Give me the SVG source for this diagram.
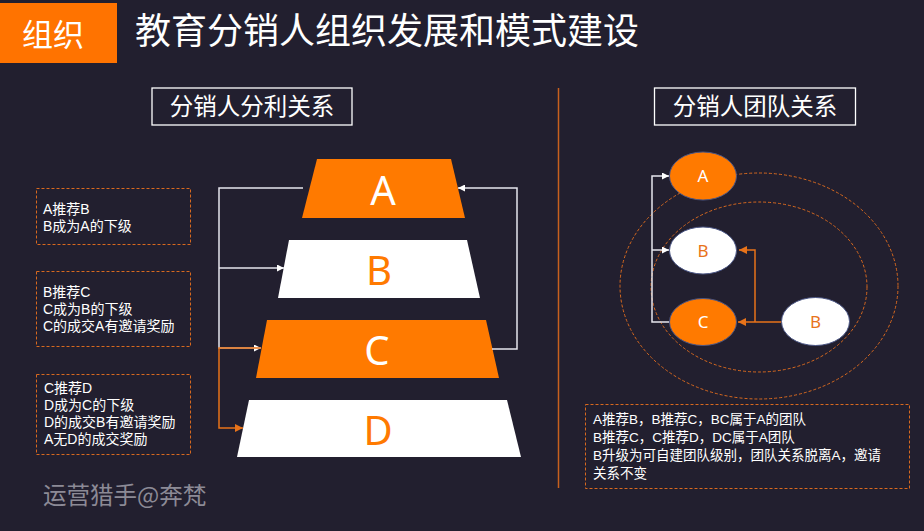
<svg xmlns="http://www.w3.org/2000/svg" width="924" height="531" viewBox="0 0 924 531">
<defs>
<style>
.cjk{font-family:"Noto Sans CJK SC","Noto Sans",sans-serif;}
.lat{font-family:"Noto Sans","Noto Sans CJK SC",sans-serif;}
.nf{font-family:"Liberation Sans","Noto Sans CJK SC",sans-serif;}
.box{fill:none;stroke:#d8691f;stroke-width:1;stroke-dasharray:3 2;}
.note{font-size:13.5px;fill:#ffffff;}
.lnote{font-size:14px;fill:#ffffff;}
.wl{fill:none;stroke:#e6e6ee;stroke-width:1.5;}
.ol{fill:none;stroke:#e8731a;stroke-width:1.5;}
.hdr{fill:none;stroke:#ffffff;stroke-width:1.3;}
.big{font-size:40px;text-anchor:middle;}
.sm{font-size:17px;text-anchor:middle;}
.orange{fill:#ff7a00;}
.ell{stroke:#4a5584;stroke-width:1;}
</style>
<linearGradient id="hl" x1="0" x2="1" y1="0" y2="0">
<stop offset="0" stop-color="#d8681e"/>
<stop offset="1" stop-color="#b4552a"/>
</linearGradient>
<marker id="aw" viewBox="0 0 10 10" refX="10" refY="5" markerWidth="7" markerHeight="7" markerUnits="userSpaceOnUse" orient="auto"><path d="M0,0 L10,5 L0,10 z" fill="#ffffff"/></marker>
<marker id="ao" viewBox="0 0 10 10" refX="10" refY="5" markerWidth="8" markerHeight="8" markerUnits="userSpaceOnUse" orient="auto"><path d="M0,0 L10,5 L0,10 z" fill="#e8731a"/></marker>
</defs>
<rect x="0" y="0" width="924" height="531" fill="#221f2f"/>

<g id="header">
<rect x="0" y="3" width="117" height="60" fill="#ff7300"/>
<text x="22" y="46" class="cjk" font-size="31" fill="#ffffff">组织</text>
<text x="135" y="44" class="cjk" font-size="36" fill="#ffffff">教育分销人组织发展和模式建设</text>
<line x1="117" y1="62.5" x2="706" y2="62.5" stroke="url(#hl)" stroke-width="2"/>
</g>

<line id="divider" x1="558.5" y1="88" x2="558.5" y2="488" stroke="#c8601e" stroke-width="1.5"/>

<g id="title-left">
<rect x="152" y="88" width="200" height="37" class="hdr"/>
<text x="252" y="115" class="cjk" font-size="23.5" fill="#ffffff" text-anchor="middle">分销人分利关系</text>
</g>
<g id="title-right">
<rect x="654.5" y="88" width="201" height="37" class="hdr"/>
<text x="755" y="115" class="cjk" font-size="23.5" fill="#ffffff" text-anchor="middle">分销人团队关系</text>
</g>

<g id="note1">
<rect x="36.5" y="188.5" width="154" height="56" class="box"/>
<text class="nf lnote" x="43" y="214">A推荐B</text>
<text class="nf lnote" x="43" y="231">B成为A的下级</text>
</g>
<g id="note2">
<rect x="36.5" y="271.5" width="154" height="75" class="box"/>
<text class="nf lnote" x="43" y="297">B推荐C</text>
<text class="nf lnote" x="43" y="314">C成为B的下级</text>
<text class="nf lnote" x="43" y="331">C的成交A有邀请奖励</text>
</g>
<g id="note3">
<rect x="36.5" y="374.5" width="154" height="80" class="box"/>
<text class="nf lnote" x="44" y="393">C推荐D</text>
<text class="nf lnote" x="44" y="410">D成为C的下级</text>
<text class="nf lnote" x="44" y="427">D的成交B有邀请奖励</text>
<text class="nf lnote" x="44" y="444">A无D的成交奖励</text>
</g>

<g id="level-A">
<polygon points="317,159 451,159 465,218 302,218" class="orange"/>
<text x="383" y="205" class="lat big" fill="#ffffff">A</text>
</g>
<g id="level-B">
<polygon points="289,240 467,240 480,298 278,298" fill="#ffffff"/>
<text x="379" y="285" class="lat big" fill="#ff7a00">B</text>
</g>
<g id="level-C">
<polygon points="267,320 486,320 499,378 256,378" class="orange"/>
<text x="377" y="365" class="lat big" fill="#ffffff">C</text>
</g>
<g id="level-D">
<polygon points="249,400 507,400 521,457 237,457" fill="#ffffff"/>
<text x="378" y="445" class="lat big" fill="#ff7a00">D</text>
</g>

<g id="team-rings">
<ellipse cx="759" cy="286" rx="139" ry="113" fill="none" stroke="#d8691f" stroke-width="1" stroke-dasharray="3 2"/>
<ellipse cx="759" cy="287" rx="108" ry="85" fill="none" stroke="#d8691f" stroke-width="1" stroke-dasharray="3 2"/>
</g>

<g id="connectors">
<path d="M303,188 H219 V348 H261" class="wl" marker-end="url(#aw)"/>
<path d="M219,268 H284" class="wl" marker-end="url(#aw)"/>
<path d="M261,348 H219 V428 H243" class="ol" marker-end="url(#ao)"/>
<path d="M492,349 H517 V188 H458" class="wl" marker-end="url(#aw)"/>
<path d="M670,322 H652 V176 H669" class="wl" marker-end="url(#aw)"/>
<path d="M652,250 H669" class="wl" marker-end="url(#aw)"/>
<path d="M782,322 H738" class="ol" marker-end="url(#ao)"/>
<path d="M755,322 V250 H739" class="ol" marker-end="url(#ao)"/>
</g>

<g id="node-A">
<ellipse cx="703" cy="176" rx="33.5" ry="24" class="ell" fill="#ff7a00"/>
<text x="703" y="182" class="lat sm" fill="#ffffff">A</text>
</g>
<g id="node-B">
<ellipse cx="703" cy="250.5" rx="33.5" ry="23.5" class="ell" fill="#ffffff"/>
<text x="703" y="257" class="lat sm" fill="#e8731a">B</text>
</g>
<g id="node-C">
<ellipse cx="703" cy="322" rx="33.5" ry="23.5" class="ell" fill="#ff7a00"/>
<text x="703" y="328" class="lat sm" fill="#ffffff">C</text>
</g>
<g id="node-B2">
<ellipse cx="815.5" cy="321.5" rx="34" ry="24" class="ell" fill="#ffffff"/>
<text x="815.5" y="328" class="lat sm" fill="#e8731a">B</text>
</g>

<g id="note4">
<rect x="585.5" y="404.5" width="324" height="84" class="box"/>
<text class="nf note" x="593" y="424">A推荐B，B推荐C，BC属于A的团队</text>
<text class="nf note" x="593" y="442">B推荐C，C推荐D，DC属于A团队</text>
<text class="nf note" x="593" y="460">B升级为可自建团队级别，团队关系脱离A，邀请</text>
<text class="nf note" x="593" y="478">关系不变</text>
</g>

<text id="watermark" x="43" y="504" class="cjk" font-size="23.5" fill="#8c8a96">运营猎手@奔梵</text>
</svg>
